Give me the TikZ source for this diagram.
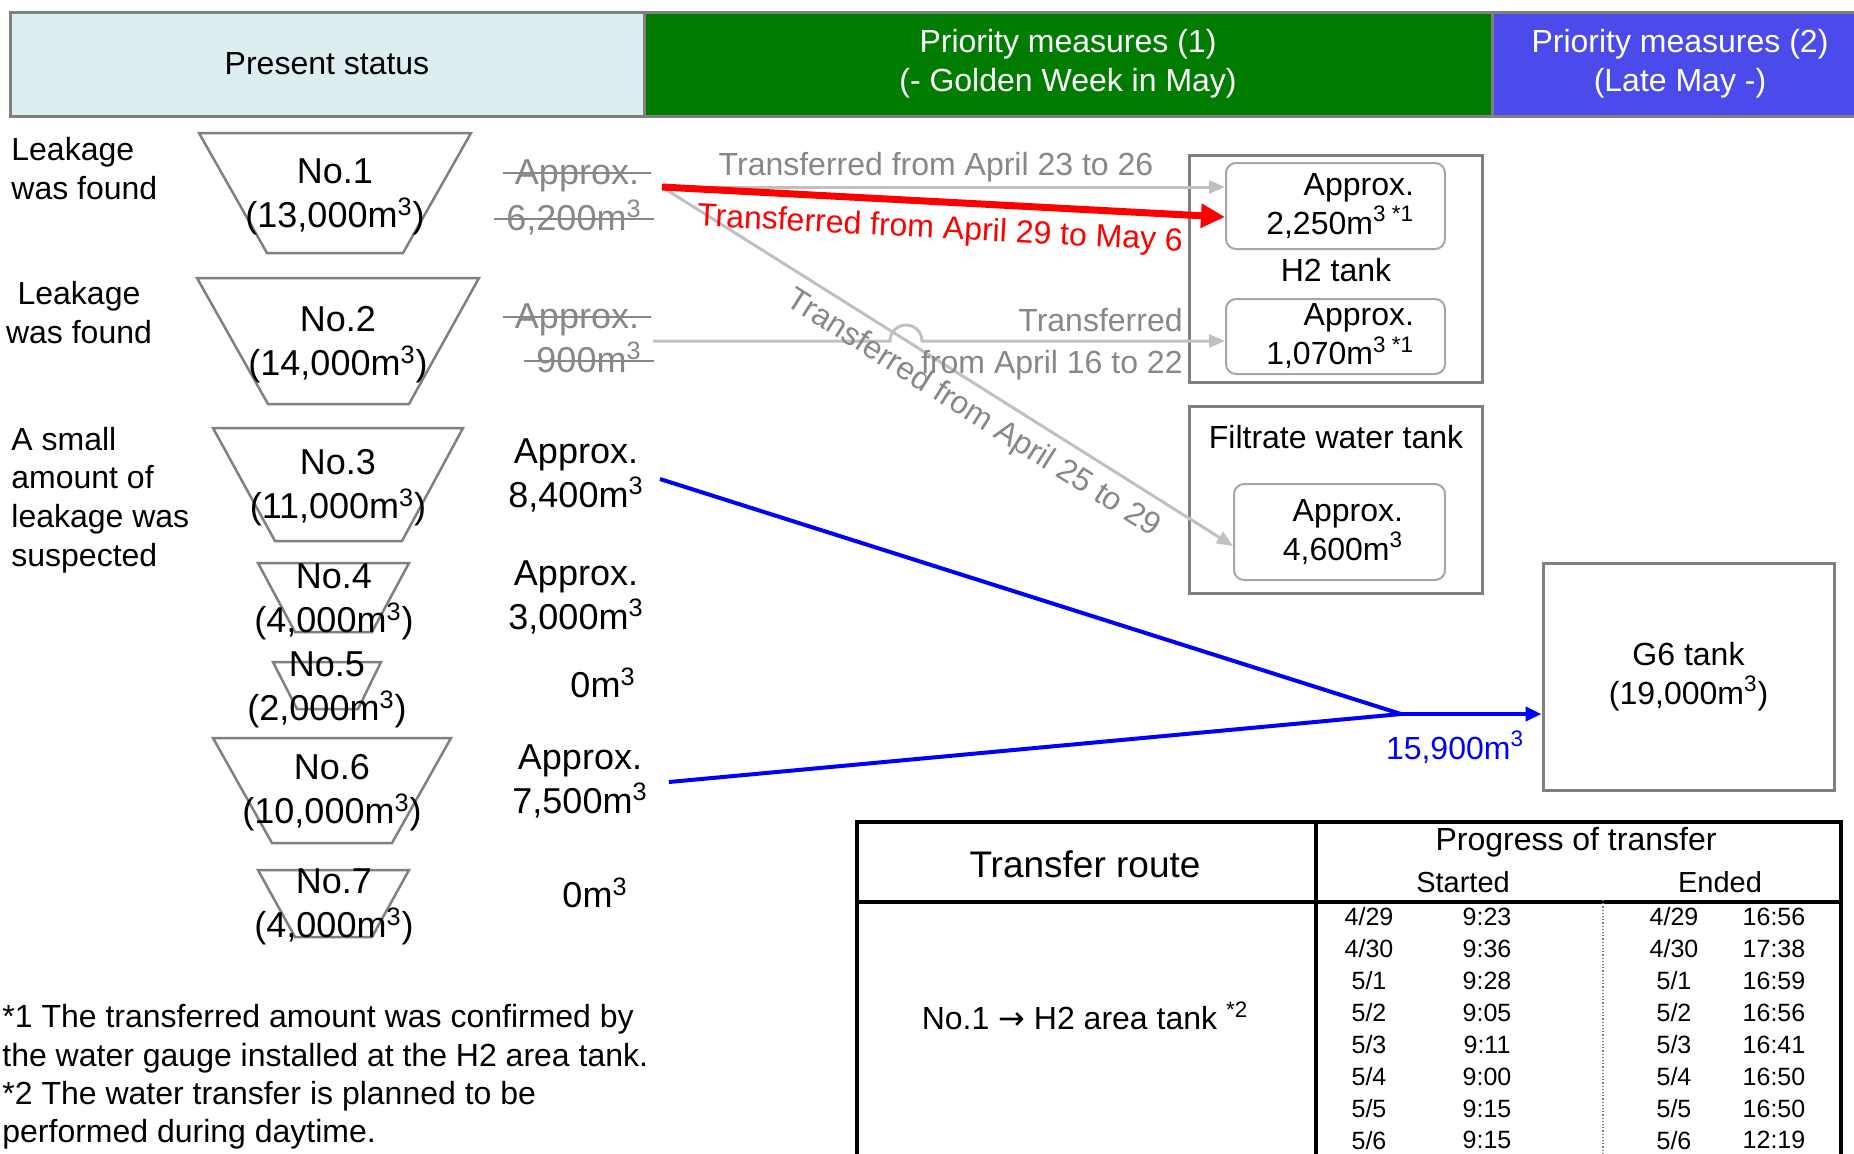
\documentclass[tikz,border=0pt]{standalone}
\usepackage{fontspec}
\setmainfont{Liberation Sans}
\newfontfamily\symfont{DejaVu Sans}
\usetikzlibrary{arrows.meta}

\definecolor{hdrcyan}{RGB}{221,238,240}
\definecolor{hdrgreen}{RGB}{0,125,0}
\definecolor{hdrblue}{RGB}{75,75,235}
\definecolor{framegray}{RGB}{128,128,128}
\definecolor{linegray}{RGB}{192,192,192}
\definecolor{textgray}{RGB}{135,135,135}
\definecolor{boxgray}{RGB}{166,166,166}

\newcommand{\cbm}{m\textsuperscript{3}}

\begin{document}
\begin{tikzpicture}[x=0.5pt, y=-0.5pt,
  txt/.style={font=\fontsize{16}{19.5}\selectfont, inner sep=0pt, align=center},
  big/.style={font=\fontsize{18}{22}\selectfont, inner sep=0pt, align=center},
  hdrcell/.style={txt, draw=framegray, line width=1.5pt, minimum height=52pt},
  tankline/.style={draw=framegray, line width=1.25pt},
  area/.style={draw=framegray, line width=1.5pt, inner sep=0pt},
  subtank/.style={txt, draw=boxgray, line width=1pt, rounded corners=5pt, align=right},
  struck/.style={big, text=textgray, inner xsep=6pt, text height=13pt, text depth=2pt,
    append after command={(\tikzlastnode.west) edge[draw=textgray, line width=1pt] (\tikzlastnode.east)}},
  greyflow/.style={draw=linegray, line width=1.5pt, -{Triangle[length=8pt, width=6.5pt]}},
  redflow/.style={draw=red, line width=3.5pt, -{Triangle[length=12pt, width=11.5pt]}},
  blueflow/.style={draw=blue, line width=2pt},
  tbl/.style={line width=1.6pt},
  row/.style={font=\fontsize{12.5}{15}\selectfont, inner sep=0pt}]
  \useasboundingbox (0,0) rectangle (1854,1153);

  % header
  \node[hdrcell, fill=hdrcyan, minimum width=317pt] (present) at (327,64) {Present status};
  \node[hdrcell, fill=hdrgreen, text=white, minimum width=424pt] (pm1) at (1068,64) {Priority measures (1)\\(- Golden Week in May)};
  \node[hdrcell, fill=hdrblue, text=white, minimum width=188pt] (pm2) at (1680,64) {Priority measures (2)\\(Late May -)};

  % present status
  \node[txt, align=left, anchor=west] (lk1) at (11,169) {Leakage\\was found};
  \node[txt] (lk2) at (79,313) {Leakage\\was found};
  \node[txt, align=left, anchor=west, font=\fontsize{16}{19.3}\selectfont] (lk3) at (11,500) {A small\\amount of\\leakage was\\suspected};

  \draw[tankline] (199,133) -- (471,133) -- (403,253) -- (267,253) -- cycle;
  \draw[tankline] (197,278) -- (479,278) -- (409,404) -- (268,404) -- cycle;
  \draw[tankline] (213,428) -- (463,428) -- (402,541) -- (275,541) -- cycle;
  \draw[tankline] (258,563) -- (409,563) -- (372,632) -- (295,632) -- cycle;
  \draw[tankline] (273,662) -- (381,662) -- (358,709) -- (297,709) -- cycle;
  \draw[tankline] (213,738) -- (451,738) -- (392,843) -- (272,843) -- cycle;
  \draw[tankline] (258,870) -- (409,870) -- (372,937) -- (295,937) -- cycle;
  \node[big] (t1) at (335,197) {No.1\\(13,000\cbm)};
  \node[big] (t2) at (338,345) {No.2\\(14,000\cbm)};
  \node[big] (t3) at (338,488) {No.3\\(11,000\cbm)};
  \node[big] (t4) at (334,602) {No.4\\(4,000\cbm)};
  \node[big] (t5) at (327,690) {No.5\\(2,000\cbm)};
  \node[big] (t6) at (332,793) {No.6\\(10,000\cbm)};
  \node[big] (t7) at (334,907) {No.7\\(4,000\cbm)};

  \node[struck] (sa1) at (577,173) {Approx.};
  \node[struck] (sb1) at (574,219) {6,200\cbm};
  \node[struck] (sa2) at (577,317) {Approx.};
  \node[struck] (sb2) at (589,361) {900\cbm};
  \node[big] (amt3) at (576,475) {Approx.\\8,400\cbm};
  \node[big] (amt4) at (576,597) {Approx.\\3,000\cbm};
  \node[big] (amt5) at (603,683) {0\cbm};
  \node[big] (amt6) at (580,781) {Approx.\\7,500\cbm};
  \node[big] (amt7) at (595,893) {0\cbm};

  % tanks of the measures
  \node[area, minimum width=146.5pt, minimum height=113.5pt] (h2) at (1335.5,268.5) {};
  \node[txt] (h2lbl) at (1336,270) {H2 tank};
  \node[subtank, minimum width=109.5pt, minimum height=43pt, text width=78.5pt, inner xsep=15.5pt] (h2a) at (1335.5,206) {Approx.\\2,250\cbm\,\textsuperscript{*1}};
  \node[subtank, minimum width=109.5pt, minimum height=37.5pt, text width=78.5pt, inner xsep=15.5pt] (h2b) at (1335.5,336.5) {Approx.\\1,070\cbm\,\textsuperscript{*1}};
  \node[area, minimum width=146.5pt, minimum height=93.5pt] (flt) at (1335.5,499.5) {};
  \node[txt] (fltlbl) at (1336,437) {Filtrate water tank};
  \node[subtank, minimum width=105.5pt, minimum height=48pt, text width=63.5pt, inner xsep=21pt] (fw) at (1339.5,532) {Approx.\\4,600\cbm};
  \node[area, txt, minimum width=145.5pt, minimum height=113.5pt] (g6) at (1688.5,676.5) {G6 tank\\(19,000\cbm)};

  % transfers
  \coordinate (src1) at (662,187);
  \coordinate (src2) at (653,341);
  \coordinate (src3) at (660,479);
  \coordinate (src6) at (669,782);
  \coordinate (junc) at (1401,714);
  \draw[greyflow] (src1) -- (src1 -| h2a.west);
  \draw[greyflow] (src1) -- ([yshift=-7pt]fw.west);
  \draw[greyflow] (src2) -- (890,341) arc[start angle=180, end angle=0, radius=8pt] -- (src2 -| h2b.west);
  \draw[redflow] (src1) -- ([yshift=-5.5pt]h2a.west);
  \draw[blueflow] (src3) -- (junc);
  \draw[blueflow] (src6) -- (junc);
  \draw[blueflow, -{Triangle[length=8pt, width=7pt]}] (junc) -- (junc -| g6.west);
  \node[txt, text=textgray] (lblA) at (936,167) {Transferred from April 23 to 26};
  \node[txt, text=red, rotate=-3] (lblB) at (940,230) {Transferred from April 29 to May 6};
  \node[txt, text=textgray, align=right, anchor=east, font=\fontsize{16}{21}\selectfont] (lblC) at (1183,344) {Transferred\\from April 16 to 22};
  \node[txt, text=textgray, rotate=-32.3] (lblD) at (973,414) {Transferred from April 25 to 29};
  \node[txt, text=blue] (lblE) at (1455,747) {15,900\cbm};

  % progress table
  \draw[tbl] (857,1170) |- (1841,822) -- (1841,1170);
  \draw[tbl] (857,902) -- (1841,902);
  \draw[tbl] (1316,822) -- (1316,1170);
  \draw[framegray, line width=0.6pt, densely dotted] (1603,900) -- (1603,1170);
  \node[font=\fontsize{18.5}{22}\selectfont, inner sep=0pt] (route) at (1085,864) {Transfer route};
  \node[txt] (prog) at (1576,842) {Progress of transfer};
  \node[font=\fontsize{14.5}{17}\selectfont, inner sep=0pt] (started) at (1463,882) {Started};
  \node[font=\fontsize{14.5}{17}\selectfont, inner sep=0pt] (ended) at (1720,882) {Ended};
  \node[txt] (route1) at (1085,1016) {No.1 {\symfont →} H2 area tank \textsuperscript{*2}};
  \foreach \d/\s/\e [count=\i from 0] in {{4/29}/9:23/16:56, {4/30}/9:36/17:38, {5/1}/9:28/16:59, {5/2}/9:05/16:56,
      {5/3}/9:11/16:41, {5/4}/9:00/16:50, {5/5}/9:15/16:50, {5/6}/9:15/12:19} {
    \node[row] (sd\i) at (1369,{917+31.9*\i}) {\d};
    \node[row] (st\i) at (1487,{917+31.9*\i}) {\s};
    \node[row] (ed\i) at (1674,{917+31.9*\i}) {\d};
    \node[row] (et\i) at (1774,{917+31.9*\i}) {\e};
  }

  % notes
  \node[txt, align=left, anchor=west, font=\fontsize{16}{19.2}\selectfont] (notes) at (2,1077) {*1 The transferred amount was confirmed by\\the water gauge installed at the H2 area tank.\\*2 The water transfer is planned to be\\performed during daytime.};
\end{tikzpicture}
\end{document}
